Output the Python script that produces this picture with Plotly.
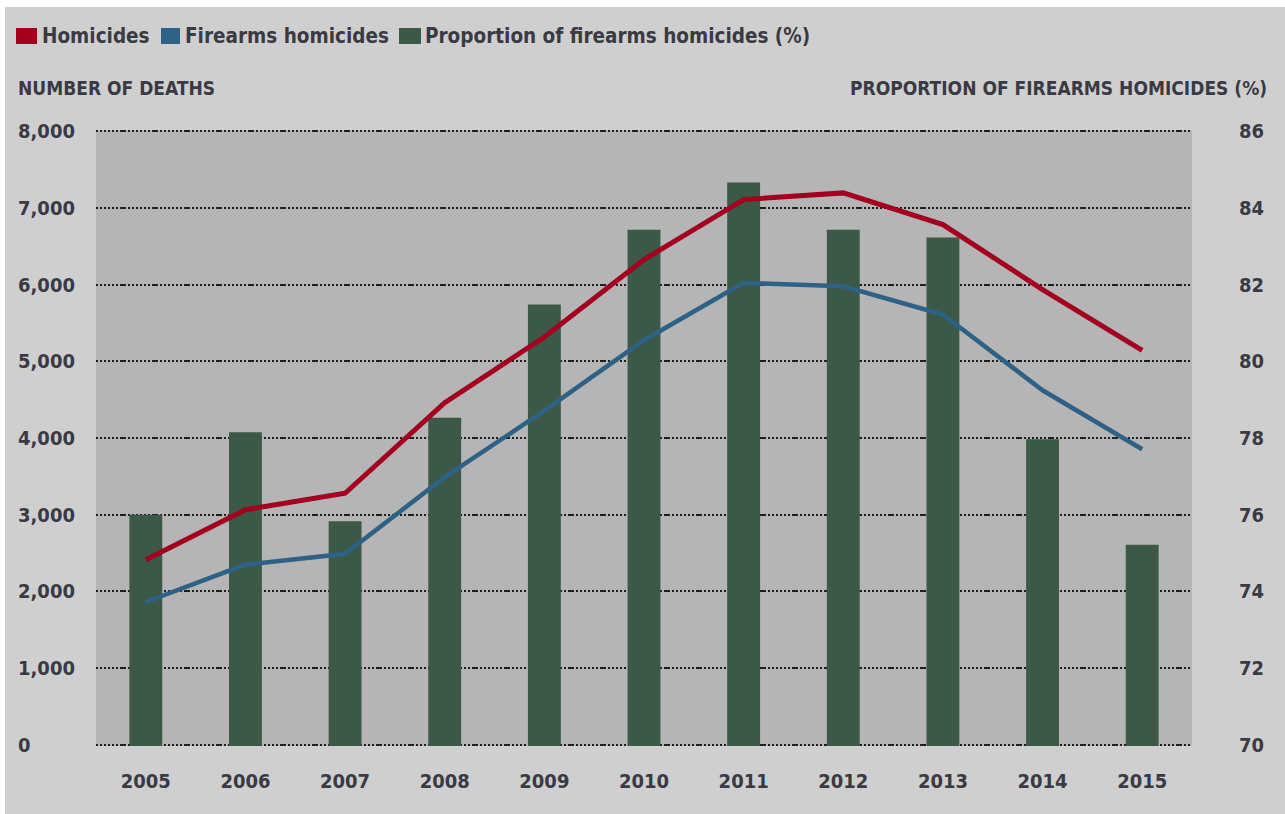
import plotly.graph_objects as go

# --- data -------------------------------------------------------------
years = ["2005", "2006", "2007", "2008", "2009", "2010",
         "2011", "2012", "2013", "2014", "2015"]
homicides = [2413, 3065, 3280, 4460, 5317, 6326, 7108, 7195, 6782, 5935, 5143]
firearms_homicides = [1862, 2350, 2490, 3490, 4356, 5274, 6022, 5978, 5609, 4622, 3853]
firearms_share_pct = [76.0, 78.15, 75.83, 78.53, 81.48, 83.43, 84.66, 83.43, 83.23, 77.97, 75.22]

deaths_ticks = [0, 1000, 2000, 3000, 4000, 5000, 6000, 7000, 8000]
deaths_tick_labels = ["0", "1,000", "2,000", "3,000", "4,000", "5,000", "6,000", "7,000", "8,000"]
pct_ticks = [70, 72, 74, 76, 78, 80, 82, 84, 86]

legend_labels = ["Homicides", "Firearms homicides", "Proportion of firearms homicides (%)"]
left_title = "NUMBER OF DEATHS"
right_title = "PROPORTION OF FIREARMS HOMICIDES (%)"

# --- styling ----------------------------------------------------------
W, H = 1285, 814
M_L, M_R, M_T, M_B = 96, 93, 130, 68
PW, PH = W - M_L - M_R, H - M_T - M_B

RED = "#a3001f"
BLUE = "#2e6186"
GREEN = "#3c5846"
TEXT = "#3a3a44"
FONT = "DejaVu Sans Condensed, Liberation Sans Narrow, sans-serif"
GRID_DASH = "2px,2px,2px,2px,2px,2px,2px,2px,2px,2px,2px,2px,6px,2px"

# small padding so the gridlines at both range ends are drawn
PCT_RANGE = [69.97, 86.03]
DEATHS_RANGE = [-15, 8015]


def px_x(px):
    return (px - M_L) / PW


def px_y(py):
    return (H - M_B - py) / PH


def font(size):
    return dict(family=FONT, size=size, color=TEXT, weight="bold")


fig = go.Figure()

# proportion bars on the primary (right-hand, percent) axis
fig.add_trace(go.Bar(
    x=years, y=firearms_share_pct, width=0.33,
    marker=dict(color=GREEN, line=dict(width=0)),
    name=legend_labels[2], showlegend=False, yaxis="y",
))

# death counts on the overlaid left-hand axis, drawn above the bars
fig.add_trace(go.Scatter(
    x=years, y=homicides, mode="lines",
    line=dict(color=RED, width=5),
    name=legend_labels[0], showlegend=False, yaxis="y2",
))
fig.add_trace(go.Scatter(
    x=years, y=firearms_homicides, mode="lines",
    line=dict(color=BLUE, width=4.5),
    name=legend_labels[1], showlegend=False, yaxis="y2",
))

annotations = []
shapes = []

# left-axis tick labels, left aligned
for v, t in zip(deaths_ticks, deaths_tick_labels):
    annotations.append(dict(
        text=t, xref="paper", yref="y2", x=px_x(16), y=v,
        xanchor="left", yanchor="middle", showarrow=False,
        font=font(20),
    ))

# axis titles
annotations.append(dict(
    text=left_title, xref="paper", yref="paper",
    x=px_x(16), y=px_y(88), xanchor="left", yanchor="middle", showarrow=False,
    font=font(19),
))
annotations.append(dict(
    text=right_title, xref="paper", yref="paper",
    x=px_x(1269), y=px_y(88), xanchor="right", yanchor="middle", showarrow=False,
    font=font(19),
))

# legend: colour swatch + label
legend_items = [
    (RED, 16, 37, legend_labels[0], 40),
    (BLUE, 161, 180, legend_labels[1], 183),
    (GREEN, 399, 421, legend_labels[2], 423),
]
for color, x0, x1, label, tx in legend_items:
    shapes.append(dict(
        type="rect", xref="paper", yref="paper",
        x0=px_x(x0), x1=px_x(x1), y0=px_y(44), y1=px_y(28),
        fillcolor=color, line=dict(width=0),
    ))
    annotations.append(dict(
        text=label, xref="paper", yref="paper",
        x=px_x(tx), y=px_y(36), xanchor="left", yanchor="middle", showarrow=False,
        font=font(20.5),
    ))

# thin white frame along the top and left edges
shapes.append(dict(type="rect", xref="paper", yref="paper",
                   x0=px_x(0), x1=px_x(W), y0=px_y(7), y1=px_y(0),
                   fillcolor="white", line=dict(width=0), layer="below"))
shapes.append(dict(type="rect", xref="paper", yref="paper",
                   x0=px_x(0), x1=px_x(5), y0=px_y(H), y1=px_y(0),
                   fillcolor="white", line=dict(width=0), layer="below"))

fig.update_layout(
    width=W, height=H,
    margin=dict(l=M_L, r=M_R, t=M_T, b=M_B, pad=0),
    paper_bgcolor="#cfcfcf",
    plot_bgcolor="#b5b5b5",
    font=dict(family=FONT, color=TEXT),
    barmode="overlay",
    showlegend=False,
    xaxis=dict(
        type="category", range=[-0.5, 10.5],
        showgrid=False, zeroline=False, showline=False, ticks="",
        tickfont=font(20),
        ticklabelstandoff=21,
    ),
    yaxis=dict(
        side="right", range=PCT_RANGE, tickvals=pct_ticks,
        showgrid=True, gridcolor="#1e1e1e", gridwidth=2, griddash=GRID_DASH,
        zeroline=False, showline=False, ticks="",
        tickfont=font(20),
        ticklabelstandoff=46,
    ),
    yaxis2=dict(
        overlaying="y", side="left", range=DEATHS_RANGE, tickvals=deaths_ticks,
        showgrid=False, zeroline=False, showline=False, ticks="",
        showticklabels=False,
    ),
    annotations=annotations,
    shapes=shapes,
)

fig.write_html("out.html")
